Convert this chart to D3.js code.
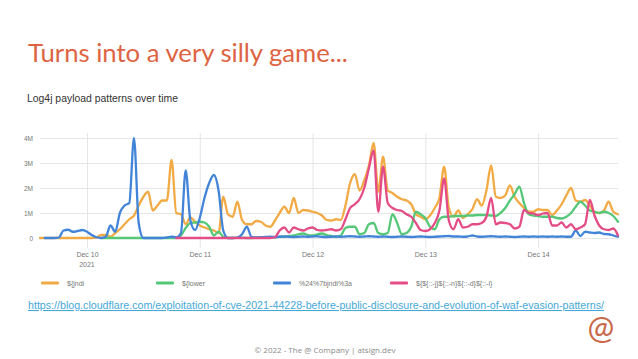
<!DOCTYPE html>
<html>
<head>
<meta charset="utf-8">
<script src="https://cdn.jsdelivr.net/npm/d3@7"></script>
<style>
  html, body { margin: 0; padding: 0; background: #fff; }
  svg { display: block; }
</style>
</head>
<body>
<div id="chart"></div>
<script>
// Log4j payload patterns over time, hourly counts in millions.
const seriesNames = ['${jndi', '${lower', '%24%7bjndi%3a', '${${::-j}${::-n}${::-d}${::-i}'];
const seriesColors = ['#f2aa45', '#55c878', '#4284d8', '#e44c86'];
const firstHour = Date.UTC(2021, 11, 9, 14);   // Dec 9, 14:00
const startHours = [0, 13, 1, 29];              // hour each series begins
const yTicks = [0, 1, 2, 3, 4];
const xTicks = [Date.UTC(2021, 11, 10), Date.UTC(2021, 11, 11), Date.UTC(2021, 11, 12), Date.UTC(2021, 11, 13), Date.UTC(2021, 11, 14)];

const jndi = [
  0, 0, 0, 0, 0, 0, 0, 0, 0, 0, 0, 0,
  0.02, 0.12, 0.12, 0.05, 0.2, 0.35, 0.55, 0.75, 0.9, 1.3, 1.65, 1.85, 1.1, 1.3, 1.5, 1.5, 3.12, 1.0,
  0.95, 0.55, 0.82, 0.65, 0.5, 0.42, 0.35, 0.3, 0.2, 1.65, 0.95, 0.85, 1.45, 0.72, 0.55, 0.55, 0.68, 0.65, 0.5, 0.45,
  0.7, 1.0, 1.25, 1.0, 1.6, 1.0, 1.12, 1.1, 1.05, 1.0, 0.9, 0.72, 0.7, 0.75, 0.72, 1.3, 2.2, 2.55, 1.9, 2.3,
  2.9, 3.8, 1.85, 3.25, 1.9, 1.8, 1.65, 1.55, 1.5, 1.35, 0.95, 0.85, 0.75, 0.9, 1.2, 1.6, 2.85, 1.2, 0.85, 1.1,
  0.8, 0.95, 1.15, 1.55, 1.3, 1.9, 2.9, 1.65, 1.6, 1.7, 2.1, 1.65, 1.4, 1.2, 1.05, 1.05, 1.15, 1.12, 1.12, 0.92,
  1.1, 1.35, 1.7, 2.0, 1.5, 1.45, 1.52, 1.3, 1.05, 1.0, 1.1, 1.45, 1.05, 0.95
];

const lower = [
  0, 0, 0, 0, 0, 0, 0, 0, 0, 0, 0, 0, 0, 0, 0, 0, 0,
  0.1, 0.4, 0.6, 0.62, 0.65, 0.62, 0.45, 0.1, 0.25, 0.05,
  0, 0, 0.01, 0.01, 0, 0, 0.01, 0.02, 0.01, 0.02,
  0.03, 0.05, 0.05, 0.08, 0.1, 0.15, 0.18, 0.12, 0.1, 0.15, 0.18, 0.12, 0.08, 0.05, 0.1, 0.4, 0.45, 0.45, 0.15, 0.2,
  0.55, 0.6, 0.2, 0.15, 0.2, 0.95, 0.6, 0.15, 0.2, 0.45, 1.05, 0.95, 0.8, 0.45, 0.35, 0.75, 0.85, 0.85, 0.88, 0.88,
  0.88, 0.9, 0.9, 0.92, 0.92, 0.92, 0.9, 0.88, 1.0, 1.2, 1.5, 1.75, 2.05, 1.4, 0.95, 0.9, 0.88, 0.85, 0.85, 0.85,
  0.8, 0.78, 0.85, 1.0, 1.25, 1.45, 1.3, 1.1, 1.05, 1.0, 1.05, 1.0, 0.88, 0.65
];

const encoded = [
  0, 0, 0, 0.02, 0.3, 0.33, 0.25, 0.28, 0.32, 0.25, 0.12, 0.03, 0, 0.05, 0.5, 0.25, 1.0, 1.3, 1.4,
  4.0, 0.6, 0, 0, 0, 0, 0, 0.02, 0.05, 0.03, 0.2, 2.7, 0.7, 0.32, 0.8, 1.6, 2.2, 2.52, 1.9, 0.3,
  0, 0, 0.02, 0.15, 0.45, 0.05, 0.02,
  0.03, 0.04, 0.05, 0.04, 0.05, 0.06, 0.05, 0.04, 0.05, 0.06,
  0.05, 0.06, 0.07, 0.05, 0.04, 0.05, 0.06, 0.05, 0.06, 0.07,
  0.06, 0.05, 0.06, 0.07, 0.06, 0.05, 0.06, 0.05, 0.04, 0.05,
  0.06, 0.05, 0.04, 0.05, 0.06, 0.05, 0.04, 0.05, 0.06, 0.07,
  0.08, 0.06, 0.06, 0.05, 0.06, 0.1, 0.06, 0.05, 0.06, 0.07,
  0.06, 0.05, 0.06, 0.05, 0.04, 0.05, 0.06, 0.05, 0.06, 0.05,
  0.06, 0.05, 0.06, 0.05, 0.06, 0.05,
  0.05, 0.3, 0.08, 0.25, 0.22, 0.2, 0.22, 0.16, 0.15, 0.1, 0.05
];

const nested = [
  0, 0, 0, 0, 0, 0, 0, 0, 0, 0, 0, 0, 0, 0, 0, 0, 0, 0, 0, 0, 0,
  0.03, 0.3, 0.42, 0.22, 0.42, 0.35, 0.3, 0.38, 0.42, 0.32, 0.3, 0.32, 0.35, 0.3, 0.35, 0.75, 1.2, 1.35, 1.55, 2.0,
  2.8, 3.5, 1.05, 2.85, 1.4, 1.2, 1.12, 1.08, 0.95, 0.85, 0.6, 0.32, 0.28, 0.35, 0.6, 1.1, 2.38, 0.7, 0.35, 0.75,
  0.42, 0.45, 0.55, 0.55, 0.6, 0.85, 1.6, 0.55, 0.62, 0.6, 0.55, 0.38, 0.45, 1.12, 1.0, 0.98, 0.92, 0.98, 1.0, 0.5,
  0.5, 0.62, 0.42, 0.55, 0.35, 0.42, 0.55, 1.52, 0.9, 0.5, 0.35, 0.32, 0.38, 0.1
];

const seriesValues = [jndi, lower, encoded, nested];

const width = 638;
const height = 359;
const plot = { left: 40, right: 618, top: 138, bottom: 238 };

const svg = d3.select('#chart').append('svg')
  .attr('width', width)
  .attr('height', height)
  .attr('viewBox', `0 0 ${width} ${height}`);

svg.append('rect').attr('width', width).attr('height', height).attr('fill', '#fff');

// slide title, fitted to its width in the original
const title = svg.append('text')
  .attr('x', 28).attr('y', 62)
  .attr('fill', '#dd6443')
  .style('font-family', 'Lato, "Open Sans", sans-serif')
  .style('font-size', '24px')
  .text('Turns into a very silly game...');
fitText(title, 320);

const subtitle = svg.append('text')
  .attr('x', 27).attr('y', 102)
  .attr('fill', '#333')
  .style('font-family', '"Liberation Sans", Arial, sans-serif')
  .style('font-size', '10px')
  .text('Log4j payload patterns over time');
fitText(subtitle, 151);

function fitText(sel, target) {
  const len = sel.node().getComputedTextLength();
  const size = parseFloat(sel.style('font-size'));
  sel.style('font-size', (size * target / len).toFixed(2) + 'px');
}

const lastHour = d3.max(seriesValues, (v, i) => startHours[i] + v.length - 1);
const x = d3.scaleUtc()
  .domain([new Date(firstHour), d3.utcHour.offset(new Date(firstHour), lastHour)])
  .range([plot.left, plot.right]);

const y = d3.scaleLinear()
  .domain([0, 4])
  .range([plot.bottom, plot.top]);

// horizontal grid + y labels
const yAxis = svg.append('g')
  .attr('transform', `translate(${plot.left},0)`)
  .call(d3.axisLeft(y)
    .tickValues(yTicks)
    .tickSize(-(plot.right - plot.left))
    .tickPadding(7)
    .tickFormat(d => d === 0 ? '0' : d + 'M'));
yAxis.select('.domain').remove();
yAxis.selectAll('line').attr('stroke', '#e6e6e6');
yAxis.selectAll('text')
  .attr('fill', '#777')
  .style('font-family', '"Liberation Sans", Arial, sans-serif')
  .style('font-size', '6.5px');

// vertical grid + day labels
const gridBottom = 248;
const xAxis = svg.append('g')
  .attr('transform', `translate(0,${gridBottom})`)
  .call(d3.axisBottom(x)
    .tickValues(xTicks.map(t => new Date(t)))
    .tickSize(-(gridBottom - 133))
    .tickPadding(4)
    .tickFormat(d3.utcFormat('%b %-d')));
xAxis.select('.domain').remove();
xAxis.selectAll('line').attr('stroke', '#e6e6e6');
xAxis.selectAll('text')
  .attr('fill', '#777')
  .style('font-family', '"Liberation Sans", Arial, sans-serif')
  .style('font-size', '7px');

svg.append('text')
  .attr('x', x(new Date(xTicks[0])))
  .attr('y', 267)
  .attr('text-anchor', 'middle')
  .attr('fill', '#777')
  .style('font-family', '"Liberation Sans", Arial, sans-serif')
  .style('font-size', '7px')
  .text('2021');

// series lines
const line = d3.line()
  .x(d => x(d.t))
  .y(d => y(d.v))
  .curve(d3.curveMonotoneX);

const lines = svg.append('g').attr('fill', 'none');
seriesValues.forEach((vals, i) => {
  const pts = vals.map((v, k) => ({ t: d3.utcHour.offset(new Date(firstHour), startHours[i] + k), v }));
  lines.append('path')
    .datum(pts)
    .attr('d', line)
    .attr('stroke', seriesColors[i])
    .attr('stroke-width', 2.3)
    .attr('stroke-linejoin', 'round')
    .attr('stroke-linecap', 'round');
});

// legend
const legendX = [41, 156, 273, 390];
const legend = svg.append('g');
seriesNames.forEach((name, i) => {
  legend.append('rect')
    .attr('x', legendX[i]).attr('y', 281.5)
    .attr('width', 18).attr('height', 3)
    .attr('rx', 1)
    .attr('fill', seriesColors[i]);
  legend.append('text')
    .attr('x', legendX[i] + 26).attr('y', 285.5)
    .attr('fill', '#777')
    .style('font-family', '"Liberation Sans", Arial, sans-serif')
    .style('font-size', '7px')
    .text(name);
});

// source link
svg.append('text')
  .attr('x', 28).attr('y', 309)
  .attr('fill', '#45a8d6')
  .attr('textLength', 576)
  .attr('lengthAdjust', 'spacingAndGlyphs')
  .style('font-family', '"Liberation Sans", Arial, sans-serif')
  .style('font-size', '10.5px')
  .style('text-decoration', 'underline')
  .text('https://blog.cloudflare.com/exploitation-of-cve-2021-44228-before-public-disclosure-and-evolution-of-waf-evasion-patterns/');

// logo mark
svg.append('text')
  .attr('x', 601).attr('y', 339)
  .attr('text-anchor', 'middle')
  .attr('fill', '#c9694a')
  .style('font-family', 'Lato, sans-serif')
  .style('font-size', '32px')
  .text('@');

svg.append('text')
  .attr('x', 325).attr('y', 353)
  .attr('text-anchor', 'middle')
  .attr('fill', '#8a8a8a')
  .style('font-family', '"Open Sans", sans-serif')
  .style('font-size', '8px')
  .text('© 2022 - The @ Company | atsign.dev');
</script>
</body>
</html>
